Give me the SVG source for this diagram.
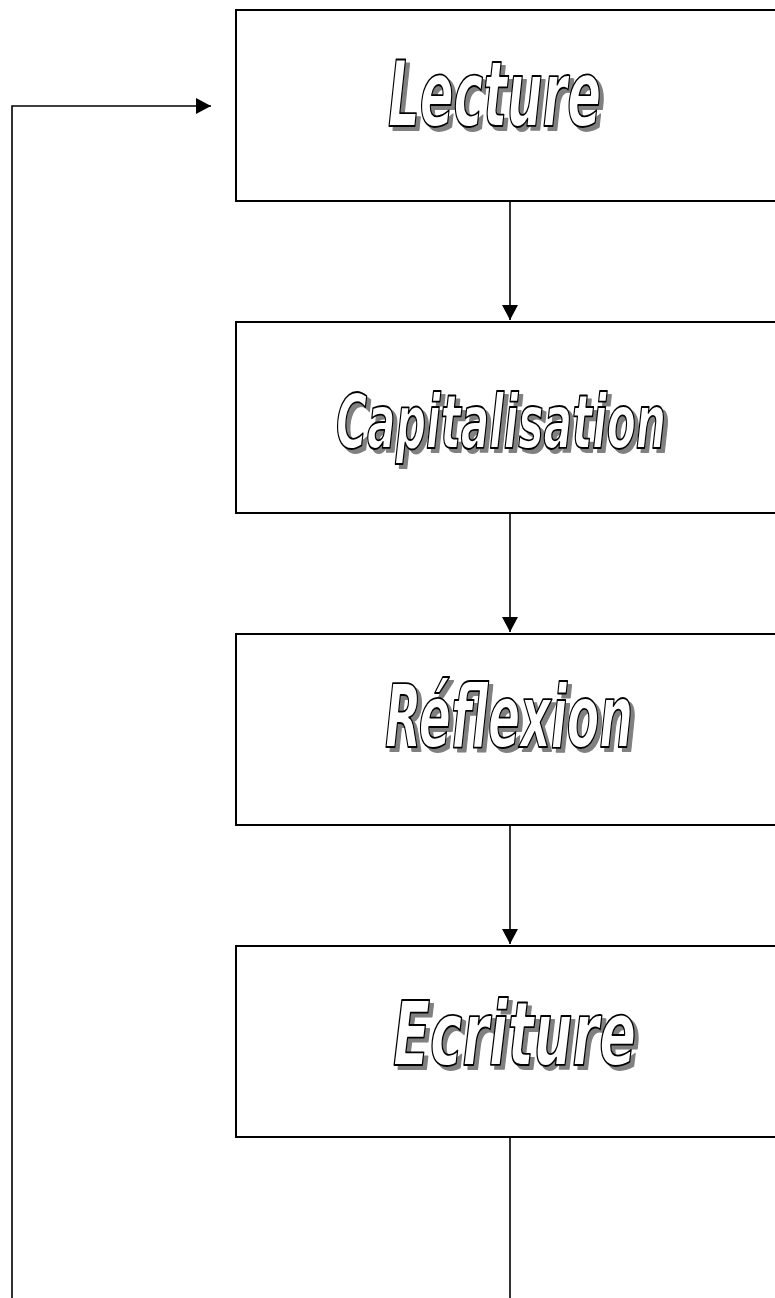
<svg xmlns="http://www.w3.org/2000/svg" width="775" height="1298" viewBox="0 0 775 1298">
<style>
.box{fill:#fff;stroke:#000;stroke-width:2}
.ln{fill:none;stroke:#000;stroke-width:1.6}
.t{font-family:"DejaVu Sans Condensed","DejaVu Sans",sans-serif;font-weight:bold;font-style:italic;stroke-linejoin:round}
.sh{fill:#808080;stroke:#808080;stroke-width:1.8}
.fg{fill:#fff;stroke:#000;stroke-width:1.8}
</style>
<defs>
<marker id="ah" markerUnits="userSpaceOnUse" markerWidth="16" markerHeight="16" refX="15" refY="8" orient="auto">
<path d="M0,0 L15,8 L0,16 Z" fill="#000"/>
</marker>
</defs>
<rect width="775" height="1298" fill="#fff"/>
<g id="connectors">
<path class="ln" d="M510,201 V320" marker-end="url(#ah)"/>
<path class="ln" d="M510,513 V632" marker-end="url(#ah)"/>
<path class="ln" d="M510,825 V944" marker-end="url(#ah)"/>
<path class="ln" d="M510,1137 V1298"/>
<path class="ln" d="M12,1298 V106 H211" marker-end="url(#ah)"/>
</g>
<g id="lecture">
<rect class="box" x="236" y="10" width="560" height="191"/>
<text class="t sh" x="392" y="130" font-size="90" textLength="213" lengthAdjust="spacingAndGlyphs">Lecture</text>
<text class="t fg" x="388" y="126" font-size="90" textLength="213" lengthAdjust="spacingAndGlyphs">Lecture</text>
</g>
<g id="capitalisation">
<rect class="box" x="236" y="322" width="560" height="191"/>
<text class="t sh" x="340" y="452" font-size="74" textLength="330" lengthAdjust="spacingAndGlyphs">Capitalisation</text>
<text class="t fg" x="336" y="448" font-size="74" textLength="330" lengthAdjust="spacingAndGlyphs">Capitalisation</text>
</g>
<g id="reflexion">
<rect class="box" x="236" y="634" width="560" height="191"/>
<text class="t sh" x="389" y="751" font-size="88" textLength="248" lengthAdjust="spacingAndGlyphs">Réflexion</text>
<text class="t fg" x="385" y="747" font-size="88" textLength="248" lengthAdjust="spacingAndGlyphs">Réflexion</text>
</g>
<g id="ecriture">
<rect class="box" x="236" y="946" width="560" height="191"/>
<text class="t sh" x="397" y="1069" font-size="89" textLength="243" lengthAdjust="spacingAndGlyphs">Ecriture</text>
<text class="t fg" x="393" y="1065" font-size="89" textLength="243" lengthAdjust="spacingAndGlyphs">Ecriture</text>
</g>
</svg>
